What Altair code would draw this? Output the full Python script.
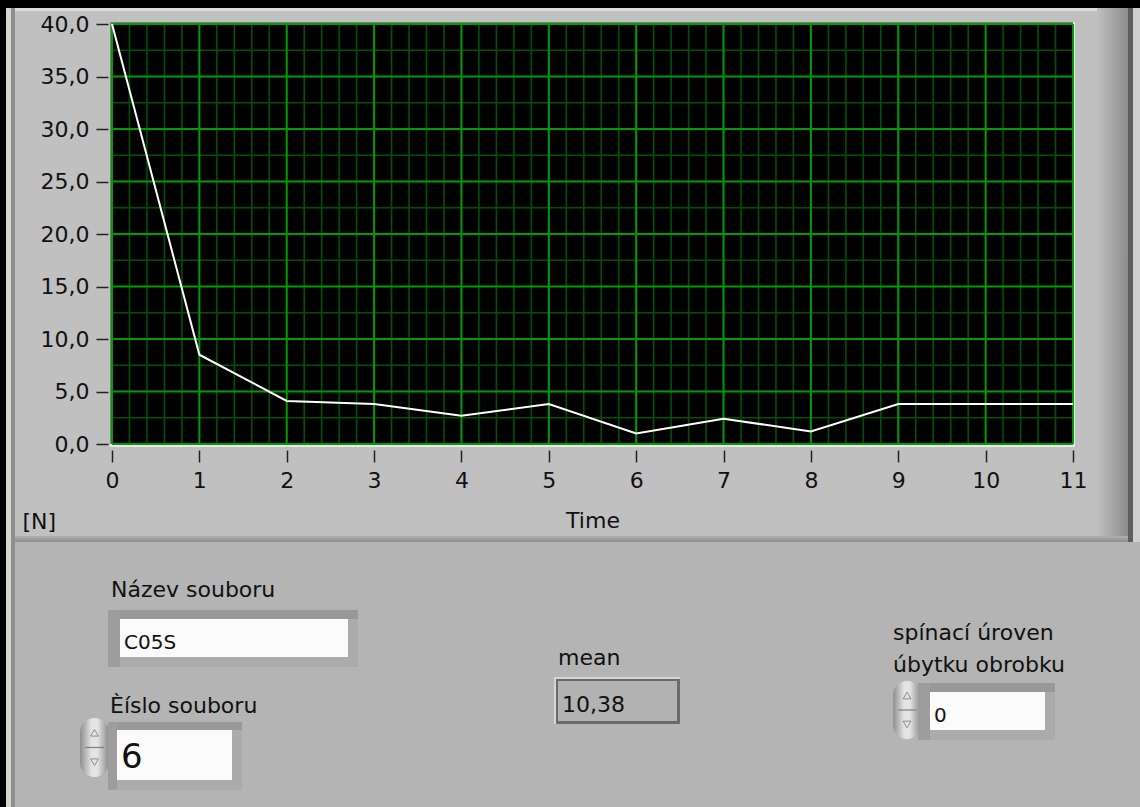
import altair as alt
import pandas as pd

# Force readings [N] at each time step
time = [0, 1, 2, 3, 4, 5, 6, 7, 8, 9, 10, 11]
force = [40.0, 8.5, 4.1, 3.8, 2.7, 3.8, 1.0, 2.4, 1.2, 3.8, 3.8, 3.8]

# Axis ticks and grid positions
x_ticks = [0, 1, 2, 3, 4, 5, 6, 7, 8, 9, 10, 11]
y_ticks = [0, 5, 10, 15, 20, 25, 30, 35, 40]
y_minor = [2.5, 7.5, 12.5, 17.5, 22.5, 27.5, 32.5, 37.5]
x_minor = [t + k / 5 for t in x_ticks[:-1] for k in (1, 2, 3, 4)]

# Front-panel control values
file_name = "C05S"
file_number = "6"
mean_text = "10,38"
threshold = "0"

FONT = "DejaVu Sans"
INK = "#111111"
W, H = 961, 420          # plot area
LEFT, TOP = 112, 24      # plot origin on the panel

series = pd.DataFrame({"time": time, "force": force})
one = alt.Data(values=[{"k": 0}])

xs = alt.Scale(domain=[0, 11], nice=False, zero=False)
ys = alt.Scale(domain=[0, 40], nice=False)


def rect(x1, y1, x2, y2, fill, **kw):
    return alt.Chart(one).mark_rect(fill=fill, strokeWidth=0, **kw).encode(
        x=alt.value(x1 - LEFT), x2=alt.value(x2 - LEFT),
        y=alt.value(y1 - TOP), y2=alt.value(y2 - TOP))


def label(x, y, s, size=22):
    return alt.Chart(one).mark_text(
        text=s, align="left", baseline="alphabetic", font=FONT,
        fontSize=size, color=INK).encode(
        x=alt.value(x - LEFT), y=alt.value(y - TOP))


def grad(stops, vertical=False):
    return alt.Gradient(
        gradient="linear",
        stops=[alt.GradientStop(color=c, offset=o) for o, c in stops],
        x1=0, x2=0 if vertical else 1, y1=0, y2=1 if vertical else 0)


def sunken(o, i):
    ox1, oy1, ox2, oy2 = o
    ix1, iy1, ix2, iy2 = i
    return [
        rect(ox1, oy1, ox2, oy2, "#ababab"),
        rect(ox1, oy1, ox2, iy1, "#989898"),
        rect(ox1, oy1, ix1, oy2, "#9d9d9d"),
        rect(ix1, iy1, ix2, iy2, "#fbfbfb"),
    ]


def spinner(x1, y1, x2, y2):
    xc = (x1 + x2) / 2
    ym = (y1 + y2) / 2
    body = rect(x1, y1, x2, y2,
                grad([(0, "#8e8e8e"), (0.4, "#e4e4e4"), (0.6, "#e4e4e4"), (1, "#8a8a8a")]),
                cornerRadius=(x2 - x1) / 2)
    mid = rect(x1 + 5, ym - 0.6, x2 - 5, ym + 0.6, "#808080")
    up = alt.Chart(one).mark_point(shape="triangle-up", size=60, filled=False,
                                   color="#6a6a6a", strokeWidth=1).encode(
        x=alt.value(xc - LEFT), y=alt.value(ym - (y2 - y1) / 4 - TOP))
    down = alt.Chart(one).mark_point(shape="triangle-down", size=60, filled=False,
                                     color="#6a6a6a", strokeWidth=1).encode(
        x=alt.value(xc - LEFT), y=alt.value(ym + (y2 - y1) / 4 - TOP))
    return [body, mid, up, down]


x_axis = alt.Axis(
    values=x_ticks, format="d", title="Time", titleFont=FONT, titleFontSize=22,
    titleFontWeight="normal", titleColor=INK, titleBaseline="alphabetic", titleY=77,
    labelFont=FONT, labelFontSize=22, labelColor=INK, labelPadding=8,
    labelFlush=False, labelOverlap=False, tickSize=12, tickWidth=1.5,
    tickColor="#222222", offset=6, domain=False, grid=False, zindex=1)

y_axis = alt.Axis(
    values=y_ticks, labelExpr="replace(format(datum.value, '.1f'), '.', ',')",
    title="[N]", titleFont=FONT, titleFontSize=22, titleFontWeight="normal",
    titleColor=INK, titleAngle=0, titleAlign="left", titleBaseline="alphabetic",
    titleX=-86, titleY=504, labelFont=FONT, labelFontSize=22, labelColor=INK,
    labelPadding=7, labelFlush=False, labelOverlap=False, tickSize=12,
    tickWidth=1.5, tickColor="#222222", offset=4, domain=False, grid=False, zindex=1)

# Window frame and graph panel
decor = [
    rect(0, 0, 6, 807, "black"),
    rect(6, 8, 11, 807, "#d8d5ce"),
    rect(11, 8, 15, 807, "#8e8e8e"),
    rect(15, 8, 1133, 542, "#c0c0c0"),
    rect(15, 8, 1128, 11, "#dedede"),
    rect(1097, 8, 1128, 542, grad([(0, "#c0c0c0"), (1, "#8c8c8c")])),
    rect(1128, 8, 1133, 542, "#5e5e5e"),
    rect(1133, 8, 1140, 542, "#cfcfcf"),
    rect(15, 536, 1128, 542, grad([(0, "#b0b0b0"), (1, "#8e8e8e")], vertical=True)),
    rect(0, 0, 1140, 8, "black"),
    # sunken plot area
    rect(110, 22, 1075, 447, "#e8e8e8"),
    rect(110, 22, 1073, 444, "#7c7c7c"),
    rect(LEFT, TOP, LEFT + W, TOP + H, "black"),
]

# Grid: minor lines (dark green) under major lines (bright green)
grid = [
    alt.Chart(pd.DataFrame({"v": x_minor})).mark_rule(color="#005200", strokeWidth=1.6)
    .encode(x=alt.X("v:Q", scale=xs, axis=x_axis)),
    alt.Chart(pd.DataFrame({"v": y_minor})).mark_rule(color="#005200", strokeWidth=1.6)
    .encode(y=alt.Y("v:Q", scale=ys, axis=y_axis)),
    alt.Chart(pd.DataFrame({"v": x_ticks})).mark_rule(color="#009c00", strokeWidth=2)
    .encode(x=alt.X("v:Q", scale=xs, axis=x_axis)),
    alt.Chart(pd.DataFrame({"v": y_ticks})).mark_rule(color="#009c00", strokeWidth=2)
    .encode(y=alt.Y("v:Q", scale=ys, axis=y_axis)),
]

line = alt.Chart(series).mark_line(color="white", strokeWidth=2).encode(
    x=alt.X("time:Q", scale=xs, axis=x_axis),
    y=alt.Y("force:Q", scale=ys, axis=y_axis))

# Controls below the graph
controls = (
    [label(111, 597, "Název souboru")]
    + sunken((108, 610, 358, 667), (120, 619, 348, 657))
    + [label(124, 649, file_name, 20)]
    + [label(110, 713, "Èíslo souboru")]
    + spinner(80, 718, 109, 777)
    + sunken((108, 722, 242, 790), (117, 730, 232, 780))
    + [label(121, 768, file_number, 34)]
    + [label(558, 665, "mean"),
       rect(554, 677, 680, 724, "#d6d6d6"),
       rect(556, 679, 680, 724, "#6a6a6a"),
       rect(558, 681, 677, 721, "#b2b2b2"),
       label(562, 712, mean_text, 22)]
    + [label(893, 640, "spínací úroven"), label(893, 672, "úbytku obrobku")]
    + spinner(893, 681, 921, 739)
    + sunken((918, 683, 1055, 740), (930, 692, 1045, 730))
    + [label(934, 722, threshold, 20)]
)

chart = alt.layer(*decor, *grid, line, *controls).properties(
    width=W, height=H,
    padding={"left": LEFT, "top": TOP, "right": 1140 - LEFT - W, "bottom": 807 - TOP - H},
    autosize=alt.AutoSizeParams(type="none"),
    background="#b4b4b4",
).configure_view(stroke=None)

chart.save("out.html", embed_options={"renderer": "svg", "actions": False})
